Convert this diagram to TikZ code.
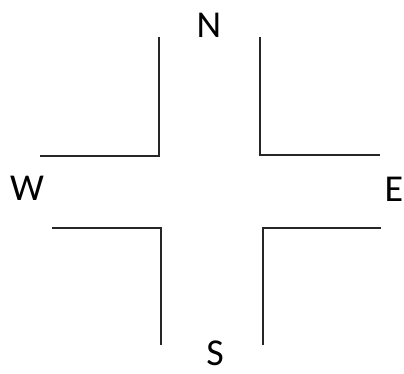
\documentclass[tikz,border=0pt]{standalone}
\usepackage{fontspec}
\setmainfont{Carlito}
\begin{document}
\begin{tikzpicture}[x=1pt,y=-1pt,
  wall/.style={line width=1.5pt,draw=black!85},
  lbl/.style={font=\fontsize{38}{40}\selectfont,inner sep=0pt,anchor=center}]
\useasboundingbox (0,0) rectangle (404,373);
\coordinate (tla) at (159,37);
\coordinate (tlb) at (159,156);
\coordinate (tlc) at (40,156);
\coordinate (tra) at (260,37);
\coordinate (trb) at (260,155);
\coordinate (trc) at (380,155);
\coordinate (bla) at (52,228);
\coordinate (blb) at (161,228);
\coordinate (blc) at (161,345);
\coordinate (bra) at (381,228);
\coordinate (brb) at (263,228);
\coordinate (brc) at (263,345);
\draw[wall] (tla) -- (tlb) -- (tlc);
\draw[wall] (tra) -- (trb) -- (trc);
\draw[wall] (bla) -- (blb) -- (blc);
\draw[wall] (bra) -- (brb) -- (brc);
\node[lbl] (n) at (209,25) {N};
\node[lbl] (w) at (27,188) {W};
\node[lbl] (e) at (394,189) {E};
\node[lbl] (s) at (215,353) {S};
\end{tikzpicture}
\end{document}
